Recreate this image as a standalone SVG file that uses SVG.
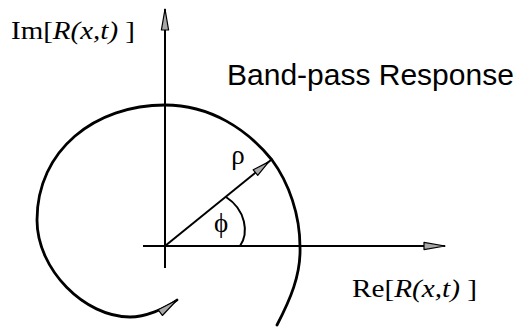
<svg xmlns="http://www.w3.org/2000/svg" width="519" height="327" viewBox="0 0 519 327">
<style>
.ax{stroke:#000;stroke-width:2;fill:none}
.sp{stroke:#000;stroke-width:2.8;fill:none;stroke-linecap:round}
.ser{font-family:"Liberation Serif","Times New Roman",serif;fill:#000}
.sans{font-family:"Liberation Sans",Arial,sans-serif;fill:#000}
</style>
<defs>
<marker id="arr" viewBox="-23 -5 25 10" refX="0" refY="0" markerWidth="25" markerHeight="10" markerUnits="userSpaceOnUse" orient="auto">
<path d="M0,0 L-21,-3.6 L-21,3.6 Z" fill="#a8a8a8" stroke="#000" stroke-width="1.2" stroke-linejoin="round"/>
</marker>
<marker id="arr2" viewBox="-23 -5 25 10" refX="3" refY="0" markerWidth="25" markerHeight="10" markerUnits="userSpaceOnUse" orient="auto">
<path d="M0,0 L-17,-3.6 L-17,3.6 Z" fill="#a8a8a8" stroke="#000" stroke-width="1.2" stroke-linejoin="round"/>
</marker>
</defs>
<rect width="519" height="327" fill="#fff"/>
<g id="connectors">
<line class="ax" x1="165" y1="268" x2="165" y2="9" marker-end="url(#arr)"/>
<line class="ax" x1="143" y1="246" x2="445" y2="246" marker-end="url(#arr)"/>
<line class="ax" x1="165" y1="246" x2="271" y2="160" stroke-width="2.4" marker-end="url(#arr2)"/>
<path class="ax" d="M 240 246 C 249 233, 246 210, 226 197" stroke-width="2.2"/>
<path class="sp" d="M 277 325 C 290 300, 301 275, 300 247 C 300 215, 289 183, 272 160 C 247 129, 210 105, 165 105 C 95 105, 37 150, 37 220 C 37 270, 85 317, 130 317 C 145 317, 165 309, 177 300" marker-end="url(#arr)"/>
</g>
<g id="im-label"><text class="ser" x="11" y="39" font-size="26" textLength="124" lengthAdjust="spacingAndGlyphs">Im[<tspan font-style="italic">R(x,t)</tspan> ]</text></g>
<g id="re-label"><text class="ser" x="352" y="297" font-size="26" textLength="125" lengthAdjust="spacingAndGlyphs">Re[<tspan font-style="italic">R(x,t)</tspan> ]</text></g>
<g id="title"><text class="sans" x="227" y="85" font-size="30">Band-pass Response</text></g>
<g id="rho"><text class="ser" x="238" y="164" font-size="27" text-anchor="middle">ρ</text></g>
<g id="phi"><text class="ser" x="221" y="232" font-size="27" text-anchor="middle">ϕ</text></g>
</svg>
